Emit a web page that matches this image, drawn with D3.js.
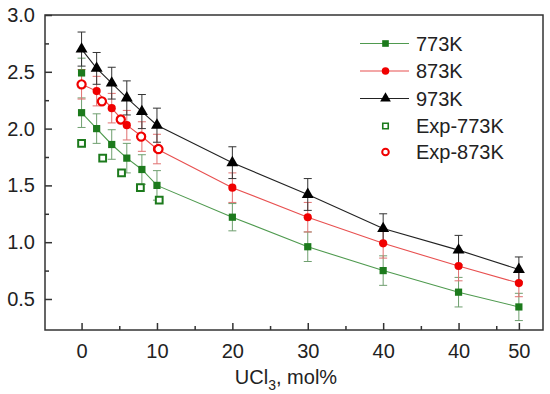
<!DOCTYPE html>
<html>
<head>
<meta charset="utf-8">
<script src="https://cdn.jsdelivr.net/npm/d3@7"></script>
<style>
  body { margin: 0; background: #fff; }
  text { font-family: "Liberation Sans", Arial, sans-serif; fill: #222; }
</style>
</head>
<body>
<script>
// x values are mol% UCl3 (the original axis labels read 0..40,40,50)
const x773 = [0, 2, 4, 6, 8, 10, 20, 30, 40, 50, 58];
const y773 = [2.14, 2.00, 1.86, 1.74, 1.64, 1.50, 1.22, 0.96, 0.75, 0.56, 0.43];
const e773 = [0.13, 0.13, 0.13, 0.13, 0.13, 0.13, 0.12, 0.13, 0.13, 0.13, 0.12];
// single extra 773K point at x=0, not on the line
const x773b = [0];
const y773b = [2.49];
const e773b = [0.13];

const x873 = [0, 2, 4, 6, 8, 10, 20, 30, 40, 50, 58];
const y873 = [2.39, 2.33, 2.18, 2.03, 1.93, 1.82, 1.48, 1.22, 0.99, 0.79, 0.64];
const e873 = [0.13, 0.13, 0.13, 0.13, 0.13, 0.13, 0.13, 0.13, 0.13, 0.13, 0.12];

const x973 = [0, 2, 4, 6, 8, 10, 20, 30, 40, 50, 58];
const y973 = [2.70, 2.53, 2.40, 2.27, 2.15, 2.03, 1.70, 1.42, 1.12, 0.93, 0.76];
const e973 = [0.15, 0.14, 0.14, 0.15, 0.15, 0.15, 0.14, 0.14, 0.13, 0.13, 0.11];

const xExp773 = [0, 2.8, 5.3, 7.8, 10.3];
const yExp773 = [1.87, 1.74, 1.61, 1.48, 1.37];
const xExp873 = [0, 2.7, 5.2, 7.9, 10.2];
const yExp873 = [2.39, 2.24, 2.08, 1.93, 1.82];

const xTicks = [0, 10, 20, 30, 40, 50, 58];
const xTickLabels = ["0", "10", "20", "30", "40", "40", "50"];
const xMinor = [5, 15, 25, 35, 45, 55];
const yTicks = [0.5, 1.0, 1.5, 2.0, 2.5, 3.0];
const yMinor = [0.75, 1.25, 1.75, 2.25, 2.75];

const legendNames = ["773K", "873K", "973K", "Exp-773K", "Exp-873K"];

const W = 550, H = 394;
const margin = { left: 45, top: 15, right: 7, bottom: 64 };
const width = W - margin.left - margin.right;
const height = H - margin.top - margin.bottom;

const GREEN = "#1c7a1c", GREEN_LINE = "#4f9a4f", GREEN_ERR = "#6f9f6f";
const RED = "#f00000", RED_LINE = "#e85050", RED_ERR = "#e07070";
const BLACK = "#000", BLACK_LINE = "#222", BLACK_ERR = "#333";

const svg = d3.select("body")
  .append("svg")
  .attr("width", W)
  .attr("height", H)
  .append("g")
  .attr("transform", `translate(${margin.left}, ${margin.top})`);

let xScale = d3.scaleLinear([-4.85, 61.2], [0, width]);
let yScale = d3.scaleLinear([0.227, 3.0], [height, 0]);

// frame
svg.append("rect")
  .attr("x", 0).attr("y", 0)
  .attr("width", width).attr("height", height)
  .attr("fill", "none")
  .attr("stroke", "#333")
  .attr("stroke-width", 1.5);

// x axis, ticks pointing inward
let xAxis = d3.axisBottom(xScale)
  .tickValues(xTicks)
  .tickSize(-7)
  .tickPadding(10)
  .tickFormat((d, i) => xTickLabels[i]);
const gx = svg.append("g")
  .attr("transform", `translate(0,${height})`)
  .call(xAxis);
gx.select(".domain").remove();
gx.selectAll(".tick line").attr("stroke", "#333").attr("stroke-width", 1.5);
gx.selectAll(".tick text").style("font-size", "20px").attr("dy", "0.9em");

svg.append("g")
  .attr("transform", `translate(0,${height})`)
  .call(d3.axisBottom(xScale).tickValues(xMinor).tickSize(-4).tickFormat(""))
  .call(g => g.select(".domain").remove())
  .selectAll(".tick line").attr("stroke", "#333").attr("stroke-width", 1.5);

let yAxis = d3.axisLeft(yScale)
  .tickValues(yTicks)
  .tickSize(-7)
  .tickPadding(10)
  .tickFormat(d3.format(".1f"));
const gy = svg.append("g").call(yAxis);
gy.select(".domain").remove();
gy.selectAll(".tick line").attr("stroke", "#333").attr("stroke-width", 1.5);
gy.selectAll(".tick text").style("font-size", "20px");

svg.append("g")
  .call(d3.axisLeft(yScale).tickValues(yMinor).tickSize(-4).tickFormat(""))
  .call(g => g.select(".domain").remove())
  .selectAll(".tick line").attr("stroke", "#333").attr("stroke-width", 1.5);

// axis label
const xlab = svg.append("text")
  .attr("text-anchor", "middle")
  .attr("x", 241)
  .attr("y", height + 54)
  .style("font-size", "20px");
xlab.append("tspan").text("UCl");
xlab.append("tspan").attr("dy", 6).style("font-size", "14px").text("3");
xlab.append("tspan").attr("dy", -6).text(", mol%");

function zip(xs, ys, es) {
  return xs.map((x, i) => ({ x: x, y: ys[i], e: es ? es[i] : 0 }));
}

function addErrorBars(data, color) {
  const g = svg.append("g");
  data.forEach(d => {
    const cx = xScale(d.x);
    const y0 = yScale(d.y - d.e), y1 = yScale(d.y + d.e);
    g.append("line").attr("x1", cx).attr("x2", cx).attr("y1", y0).attr("y2", y1)
      .attr("stroke", color).attr("stroke-width", 1);
    [y0, y1].forEach(yy => {
      g.append("line").attr("x1", cx - 4).attr("x2", cx + 4).attr("y1", yy).attr("y2", yy)
        .attr("stroke", color).attr("stroke-width", 1);
    });
  });
}

function addLine(data, color) {
  let line = d3.line()
    .x(d => xScale(d.x))
    .y(d => yScale(d.y));
  svg.append("path")
    .datum(data)
    .attr("fill", "none")
    .attr("stroke", color)
    .attr("stroke-width", 1.1)
    .attr("d", line);
}

function addMarkers(data, type, size, fill, stroke, sw) {
  svg.append("g")
    .selectAll("path")
    .data(data)
    .join("path")
    .attr("transform", d => `translate(${xScale(d.x)},${yScale(d.y)})`)
    .attr("d", d3.symbol(type, size))
    .attr("fill", fill)
    .attr("stroke", stroke)
    .attr("stroke-width", sw);
}

const d773 = zip(x773, y773, e773);
const d773b = zip(x773b, y773b, e773b);
const d873 = zip(x873, y873, e873);
const d973 = zip(x973, y973, e973);
const dExp773 = zip(xExp773, yExp773);
const dExp873 = zip(xExp873, yExp873);

addErrorBars(d773, GREEN_ERR);
addErrorBars(d773b, GREEN_ERR);
addErrorBars(d873, RED_ERR);
addErrorBars(d973, BLACK_ERR);

addLine(d773, GREEN_LINE);
addLine(d873, RED_LINE);
addLine(d973, BLACK_LINE);

addMarkers(d773, d3.symbolSquare, 52, GREEN, "none", 0);
addMarkers(d773b, d3.symbolSquare, 52, GREEN, "none", 0);
addMarkers(d873, d3.symbolCircle, 52, RED, "none", 0);
addMarkers(d973, d3.symbolTriangle, 62, BLACK, "none", 0);
addMarkers(dExp773, d3.symbolSquare, 46, "#fff", GREEN, 2);
addMarkers(dExp873, d3.symbolCircle, 52, "#fff", RED, 2.2);

// legend
const legend = svg.append("g");
const legendItems = [
  { line: GREEN_LINE, type: d3.symbolSquare, size: 44, fill: GREEN, stroke: "none", sw: 0 },
  { line: RED_LINE, type: d3.symbolCircle, size: 44, fill: RED, stroke: "none", sw: 0 },
  { line: BLACK_LINE, type: d3.symbolTriangle, size: 50, fill: BLACK, stroke: "none", sw: 0 },
  { line: null, type: d3.symbolSquare, size: 30, fill: "#fff", stroke: GREEN, sw: 1.6 },
  { line: null, type: d3.symbolCircle, size: 34, fill: "#fff", stroke: RED, sw: 2 }
];
const legY = [28.5, 56, 83.5, 111, 137];
legendItems.forEach((it, i) => {
  const gy = legY[i];
  if (it.line) {
    legend.append("line")
      .attr("x1", 315).attr("x2", 364).attr("y1", gy).attr("y2", gy)
      .attr("stroke", it.line).attr("stroke-width", 1.1);
  }
  legend.append("path")
    .attr("transform", `translate(340.5,${gy})`)
    .attr("d", d3.symbol(it.type, it.size))
    .attr("fill", it.fill)
    .attr("stroke", it.stroke)
    .attr("stroke-width", it.sw);
  legend.append("text")
    .attr("x", 371)
    .attr("y", gy)
    .attr("dy", "0.35em")
    .style("font-size", "20px")
    .text(legendNames[i]);
});
</script>
</body>
</html>
